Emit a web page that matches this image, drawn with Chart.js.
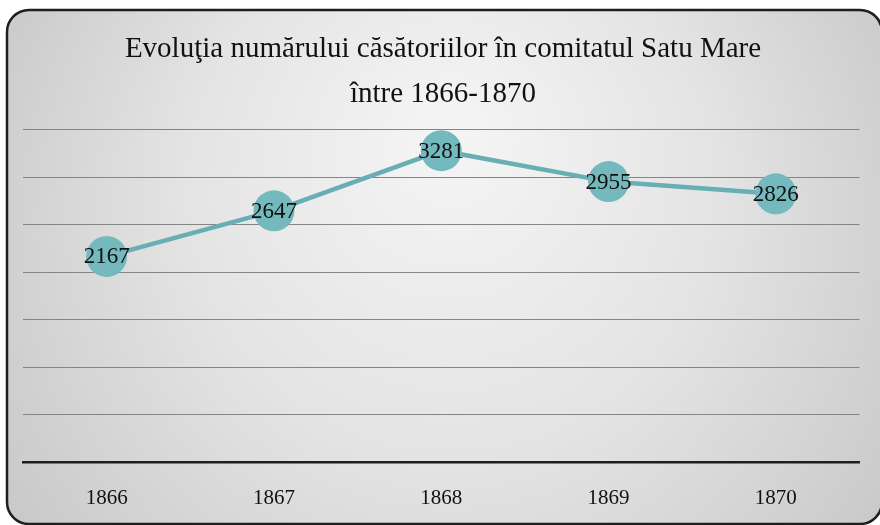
<!DOCTYPE html>
<html>
<head>
<meta charset="utf-8">
<script src="https://cdn.jsdelivr.net/npm/chart.js@4.4.0/dist/chart.umd.min.js"></script>
<style>
  html, body { margin: 0; padding: 0; background: #ffffff; }
  #wrap { width: 880px; height: 525px; position: relative; }
</style>
</head>
<body>
<div id="wrap"><canvas id="c" width="880" height="525"></canvas></div>
<script>
const categories = ['1866', '1867', '1868', '1869', '1870'];
const marriages = [2167, 2647, 3281, 2955, 2826];
const titleLines = ['Evoluţia numărului căsătoriilor în comitatul Satu Mare', 'între 1866-1870'];
const yMin = 0, yMax = 3500, yStep = 500;

const SERIF = '"Liberation Serif", "DejaVu Serif", serif';

const framePlugin = {
  id: 'frame',
  beforeDraw(chart) {
    const ctx = chart.ctx;
    const x = 7, y = 10, w = 880 - 7 + 2, h = 524 - 10, r = 22;
    ctx.save();
    ctx.beginPath();
    ctx.moveTo(x + r, y);
    ctx.lineTo(x + w - r, y);
    ctx.arcTo(x + w, y, x + w, y + r, r);
    ctx.lineTo(x + w, y + h - r);
    ctx.arcTo(x + w, y + h, x + w - r, y + h, r);
    ctx.lineTo(x + r, y + h);
    ctx.arcTo(x, y + h, x, y + h - r, r);
    ctx.lineTo(x, y + r);
    ctx.arcTo(x, y, x + r, y, r);
    ctx.closePath();
    const g = ctx.createRadialGradient(450, 130, 20, 450, 260, 560);
    g.addColorStop(0, '#f4f4f4');
    g.addColorStop(0.45, '#e4e4e4');
    g.addColorStop(1, '#c4c4c4');
    ctx.fillStyle = g;
    ctx.fill();
    ctx.lineWidth = 2.5;
    ctx.strokeStyle = '#1e1e1e';
    ctx.stroke();
    ctx.restore();
  }
};

const labelPlugin = {
  id: 'pointLabels',
  afterDatasetsDraw(chart) {
    const ctx = chart.ctx;
    const meta = chart.getDatasetMeta(0);
    const data = chart.data.datasets[0].data;
    ctx.save();
    ctx.font = '23px ' + SERIF;
    ctx.fillStyle = '#111111';
    ctx.textAlign = 'center';
    ctx.textBaseline = 'middle';
    meta.data.forEach((pt, i) => {
      ctx.fillText(String(data[i]), pt.x, pt.y + 1);
    });
    ctx.restore();
  }
};

new Chart(document.getElementById('c'), {
  type: 'line',
  data: {
    labels: categories,
    datasets: [{
      data: marriages,
      borderColor: '#68aeb4',
      borderWidth: 4.5,
      backgroundColor: '#74b9bd',
      pointBackgroundColor: '#74b9bd',
      pointBorderWidth: 0,
      pointRadius: 20.5,
      pointHoverRadius: 20.5,
      tension: 0,
      clip: false
    }]
  },
  options: {
    responsive: false,
    animation: false,
    events: [],
    layout: { padding: { left: 23, right: 17, top: 0, bottom: 13 } },
    plugins: {
      legend: { display: false },
      tooltip: { enabled: false },
      title: {
        display: true,
        text: titleLines,
        color: '#111111',
        font: { family: SERIF, size: 29, weight: 'normal', lineHeight: 1.55 },
        padding: { top: 27, bottom: 13 }
      }
    },
    scales: {
      x: {
        offset: true,
        grid: { display: false, drawTicks: false },
        border: { display: true, color: '#1e1e1e', width: 2.5 },
        ticks: { color: '#111111', padding: 24, font: { family: SERIF, size: 21 } },
        afterFit(scale) { scale.height = 50; }
      },
      y: {
        min: yMin,
        max: yMax,
        ticks: { display: false, stepSize: yStep },
        grid: { color: '#858585', lineWidth: 1, drawTicks: false },
        border: { display: false }
      }
    }
  },
  plugins: [framePlugin, labelPlugin]
});
</script>
</body>
</html>
